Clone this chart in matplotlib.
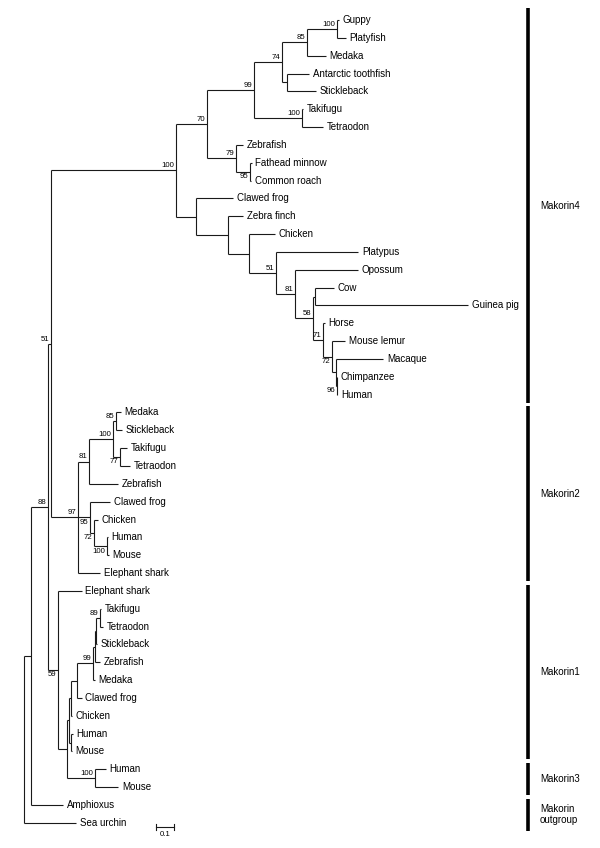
import matplotlib.pyplot as plt

plt.rcParams['font.family'] = ['Liberation Sans', 'DejaVu Sans']

# branch lengths in substitutions/site, bootstrap support as internal node labels
makorin4 = """
((((((Guppy:0.0142,Platyfish:0.0508)100:0.165,Medaka:0.1066)85:0.1339,
(Antarctic_toothfish:0.1186,Stickleback:0.1579):0.029)74:0.153,
(Takifugu:0.0071,Tetraodon:0.1191)100:0.2596)99:0.2552,
(Zebrafish:0.0415,(Fathead_minnow:0.0093,Common_roach:0.0055)95:0.0781)79:0.1552)70:0.1727,
(Clawed_frog:0.2055,(Zebra_finch:0.082,(Chicken:0.1404,(Platypus:0.4514,
(Opossum:0.3459,((Cow:0.1038,Guinea_pig:0.8377):0.0126,
(Horse:0.0066,(Mouse_lemur:0.0727,(Macaque:0.2601,
(Chimpanzee:0.0044,Human:0.0044)96:0.0044):0.0219)72:0.0459)71:0.0579)58:0.0967)81:0.1055
)51:0.1443):0.1148):0.1781):0.1093)100:0.6814
"""
makorin2 = """
((((Medaka:0.0273,Stickleback:0.0328)85:0.0148,(Takifugu:0.0399,Tetraodon:0.0546)77:0.0366)100:0.1328,
Zebrafish:0.1601)81:0.0585,
(Clawed_frog:0.1093,(Chicken:0.0235,(Human:0.0055,Mouse:0.0109)100:0.071)72:0.0219)95:0.0639,
Elephant_shark:0.1186)97:0.1492
"""
makorin1_3 = """
(Elephant_shark:0.1279,
((((((((Takifugu:0.0055,Tetraodon:0.018)89:0.0219,Stickleback:0.0055):0.0055,Zebrafish:0.0273):0.0093,
Medaka:0.0093)99:0.0907,Clawed_frog:0.0273):0.0339,Chicken:0.0082):0.0082,
(Human:0.0109,Mouse:0.0055):0.0109):0.0126,
(Human:0.0601,Mouse:0.1273)100:0.1546):0.0459)59:0.0546
"""
newick = ("((((" + makorin4 + "," + makorin2 + ")51:0.0148," + makorin1_3 +
          ")88:0.0962,Amphioxus:0.1781):0.0366,Sea_urchin:0.2842);")

clade_names = ["Makorin4", "Makorin2", "Makorin1", "Makorin3", "Makorin\noutgroup"]
clade_sizes = [22, 10, 10, 2, 2]
scale_length = 0.1

# bootstrap labels (pre-order count) that sit under their branch
below_labels = {11, 16, 17, 22, 23, 24, 25, 26}


def parse(s):
    s = "".join(s.split())
    pos = 0

    def node():
        nonlocal pos
        kids = []
        if s[pos] == '(':
            pos += 1
            kids.append(node())
            while s[pos] == ',':
                pos += 1
                kids.append(node())
            pos += 1
        start = pos
        while s[pos] not in ',():;':
            pos += 1
        name = s[start:pos]
        length = 0.0
        if s[pos] == ':':
            pos += 1
            start = pos
            while s[pos] not in ',();':
                pos += 1
            length = float(s[start:pos])
        return {'name': name.replace('_', ' '), 'len': length, 'kids': kids}

    return node()


tree = parse(newick)
leaf_no = [0]


def layout(n, x0):
    n['x'] = x0 + n['len']
    if not n['kids']:
        n['y'] = leaf_no[0]
        leaf_no[0] += 1
    else:
        for k in n['kids']:
            layout(k, n['x'])
        n['y'] = (n['kids'][0]['y'] + n['kids'][-1]['y']) / 2


layout(tree, 0.0)
n_leaves = leaf_no[0]

px_x = 183.0   # pixels per unit branch length
px_y = 17.84   # pixels per leaf
fig = plt.figure(figsize=(6, 8.48), dpi=100)
ax = fig.add_axes([0, 0, 1, 1])
ax.set_xlim(-24 / px_x, (600 - 24) / px_x)
ax.set_ylim((848 - 20) / px_y, -20 / px_y)
ax.axis('off')

lc = '#1a1a1a'
lw = 0.8
count = [0]


def draw(n):
    if n['kids']:
        ax.plot([n['x'], n['x']], [n['kids'][0]['y'], n['kids'][-1]['y']],
                color=lc, lw=lw, solid_capstyle='butt')
        for k in n['kids']:
            ax.plot([n['x'], k['x']], [k['y'], k['y']], color=lc, lw=lw,
                    solid_capstyle='butt')
        if n['name']:
            count[0] += 1
            below = count[0] in below_labels
            ax.annotate(n['name'], (n['x'], n['y']),
                        xytext=(-1.2, -1.0 if below else 0.8),
                        textcoords='offset points', ha='right',
                        va='top' if below else 'bottom', fontsize=5.6)
        for k in n['kids']:
            draw(k)
    else:
        ax.annotate(n['name'], (n['x'], n['y']), xytext=(2.6, 0),
                    textcoords='offset points', ha='left', va='center',
                    fontsize=7)


draw(tree)

# clade bars
bar_x = 528 / px_x - 24 / px_x
first = 0
for name, size in zip(clade_names, clade_sizes):
    last = first + size - 1
    y0 = first - (0.65 if first == 0 else 0.35)
    y1 = last + 0.45
    ax.plot([bar_x, bar_x], [y0, y1], color='black', lw=2.6, solid_capstyle='butt')
    ax.text(bar_x + 12 / px_x, (y0 + y1) / 2, name, ha='left', va='center',
            fontsize=7, linespacing=1.1)
    first = last + 1

# scale bar
sx = (156 - 24) / px_x
sy = n_leaves - 1 + 0.25
ax.plot([sx, sx + scale_length], [sy, sy], color=lc, lw=lw)
for xx in (sx, sx + scale_length):
    ax.plot([xx, xx], [sy - 0.17, sy + 0.17], color=lc, lw=lw)
ax.annotate('%.1f' % scale_length, (sx + scale_length / 2, sy), xytext=(0, -2.5),
            textcoords='offset points', ha='center', va='top', fontsize=5.6)

fig.savefig('out.png', dpi=100, facecolor='white')
